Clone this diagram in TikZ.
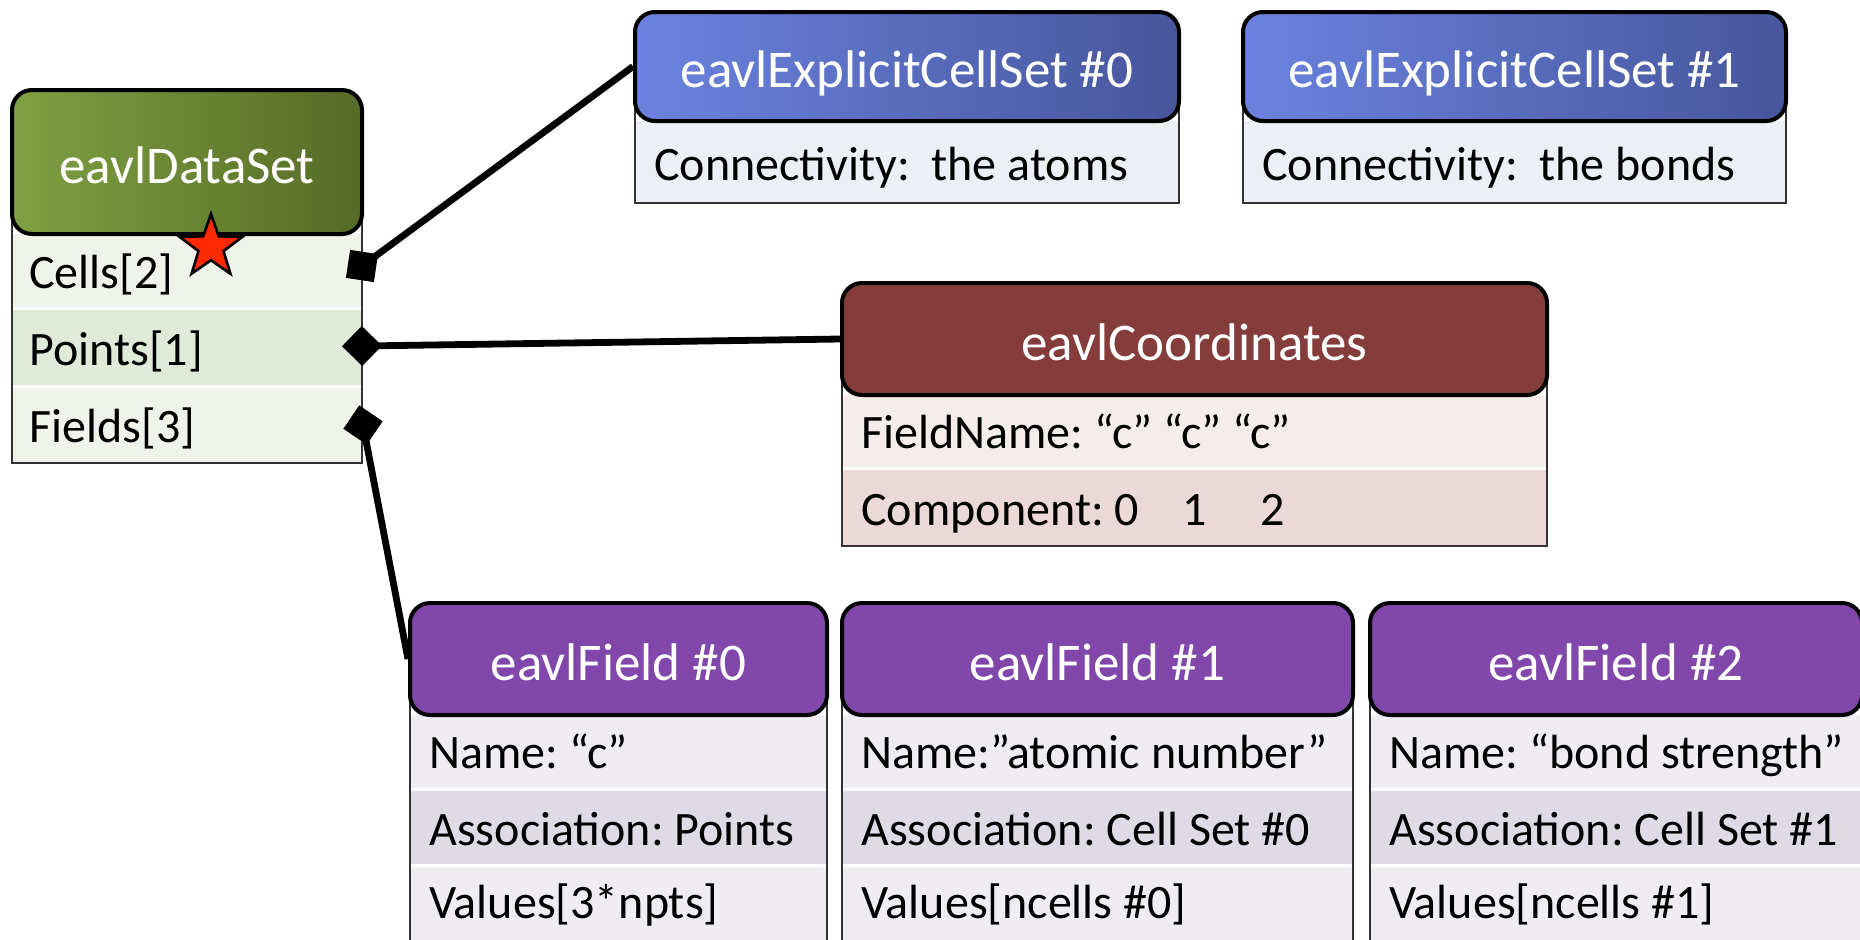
\documentclass[tikz,border=0pt]{standalone}
\usepackage{fontspec}
\setmainfont{Carlito}
\usetikzlibrary{arrows.meta,shapes.geometric}
\definecolor{dsL}{HTML}{7FA042}
\definecolor{dsR}{HTML}{566B26}
\definecolor{dsRowA}{HTML}{F0F3EC}
\definecolor{dsRowB}{HTML}{E1EAD9}
\definecolor{csL}{HTML}{6B83DF}
\definecolor{csR}{HTML}{47569C}
\definecolor{csRow}{HTML}{ECEFF4}
\definecolor{coHead}{HTML}{853D3B}
\definecolor{coRowA}{HTML}{F5ECEC}
\definecolor{coRowB}{HTML}{EBD8D8}
\definecolor{fiHead}{HTML}{8147AA}
\definecolor{fiRowA}{HTML}{EFEDF2}
\definecolor{fiRowB}{HTML}{DEDBE5}
\definecolor{starRed}{HTML}{FF2A00}
\frenchspacing
\begin{document}
\begin{tikzpicture}[x=0.5pt,y=-0.5pt,
  hdr/.style={draw=black, line width=2pt, rounded corners=10pt, inner sep=0pt,
    text=white, font=\fontsize{26.5}{30}\selectfont, text height=21pt, text depth=0pt},
  rowtext/.style={anchor=base west, inner sep=0pt, font=\fontsize{24}{28}\selectfont, text=black},
  bodyline/.style={draw=black!80, line width=1.1pt},
  sepline/.style={draw=white, line width=1.5pt},
  conn/.style={line width=3.4pt, arrows={Diamond[length=20pt,width=20pt]-}, shorten <=-10pt}
]
\useasboundingbox (0,0) rectangle (1860,939);
\clip (0,0) rectangle (1860,939);

% ---------------- eavlDataSet ----------------
\fill[dsRowA] (12,234) rectangle (362,308);
\fill[dsRowB] (12,308) rectangle (362,386);
\fill[dsRowA] (12,386) rectangle (362,463);
\draw[sepline] (12,308) -- (362,308);
\draw[sepline] (12,386) -- (362,386);
\draw[bodyline] (12,160) rectangle (362,463);
\node[hdr, left color=dsL, right color=dsR, minimum width=175pt, minimum height=72pt] (ds) at (187,162) {eavlDataSet};
\node[rowtext] (dsCells) at (29,288) {Cells[2]};
\node[rowtext] (dsPoints) at (29,365) {Points[1]};
\node[rowtext] (dsFields) at (29,442) {Fields[3]};
\node[star, star points=5, star point ratio=2.5, minimum size=33pt, inner sep=0pt,
  fill=starRed, draw=black, line width=1.3pt] (star) at (211,247) {};

% ---------------- connector ports ----------------
\coordinate (dsCellsPort) at (362,266);
\coordinate (dsPointsPort) at (362,346);
\coordinate (dsFieldsPort) at (363,425);

% ---------------- eavlExplicitCellSet #0 ----------------
\fill[csRow] (635,121) rectangle (1179,203);
\draw[bodyline] (635,60) rectangle (1179,203);
\node[hdr, left color=csL, right color=csR, minimum width=272pt, minimum height=54.5pt] (cs0) at (907,66.5) {eavlExplicitCellSet \#0};
\node[rowtext] (cs0conn) at (654,180) {Connectivity:~ the atoms};

% ---------------- eavlExplicitCellSet #1 ----------------
\fill[csRow] (1243,121) rectangle (1786,203);
\draw[bodyline] (1243,60) rectangle (1786,203);
\node[hdr, left color=csL, right color=csR, minimum width=271.5pt, minimum height=54.5pt] (cs1) at (1514.5,66.5) {eavlExplicitCellSet \#1};
\node[rowtext] (cs1conn) at (1262,180) {Connectivity:~ the bonds};

% ---------------- eavlCoordinates ----------------
\fill[coRowA] (842,395) rectangle (1547,468);
\fill[coRowB] (842,468) rectangle (1547,546);
\draw[sepline] (842,468) -- (1547,468);
\draw[bodyline] (842,330) rectangle (1547,546);
\node[hdr, fill=coHead, minimum width=352.5pt, minimum height=56pt] (coord) at (1194.5,339) {eavlCoordinates};
\node[rowtext] (coName) at (861,448) {FieldName: “c” “c” “c”};
\node[rowtext] (coComp) at (861,525) {Component: 0\hspace{21.5pt}1\hspace{27pt}2};

% ---------------- eavlField #0 ----------------
\fill[fiRowA] (410,715) rectangle (827,789);
\fill[fiRowB] (410,789) rectangle (827,865);
\fill[fiRowA] (410,865) rectangle (827,960);
\draw[sepline] (410,789) -- (827,789);
\draw[sepline] (410,865) -- (827,865);
\draw[bodyline] (410,660) rectangle (827,960);
\node[hdr, fill=fiHead, minimum width=208.5pt, minimum height=56pt] (f0) at (618.5,659) {eavlField \#0};
\node[rowtext] (f0name) at (429,768) {Name: “c”};
\node[rowtext] (f0assoc) at (429,845) {Association: Points};
\node[rowtext] (f0vals) at (429,918) {Values[3*npts]};

% ---------------- eavlField #1 ----------------
\fill[fiRowA] (842,715) rectangle (1353,789);
\fill[fiRowB] (842,789) rectangle (1353,865);
\fill[fiRowA] (842,865) rectangle (1353,960);
\draw[sepline] (842,789) -- (1353,789);
\draw[sepline] (842,865) -- (1353,865);
\draw[bodyline] (842,660) rectangle (1353,960);
\node[hdr, fill=fiHead, minimum width=255.5pt, minimum height=56pt] (f1) at (1097.5,659) {eavlField \#1};
\node[rowtext] (f1name) at (861,768) {Name:”atomic number”};
\node[rowtext] (f1assoc) at (861,845) {Association: Cell Set \#0};
\node[rowtext] (f1vals) at (861,918) {Values[ncells \#0]};

% ---------------- eavlField #2 ----------------
\fill[fiRowA] (1370,715) rectangle (1862,789);
\fill[fiRowB] (1370,789) rectangle (1862,865);
\fill[fiRowA] (1370,865) rectangle (1862,960);
\draw[sepline] (1370,789) -- (1862,789);
\draw[sepline] (1370,865) -- (1862,865);
\draw[bodyline] (1370,660) rectangle (1862,960);
\node[hdr, fill=fiHead, minimum width=246pt, minimum height=56pt] (f2) at (1616,659) {eavlField \#2};
\node[rowtext] (f2name) at (1389,768) {Name: “bond strength”};
\node[rowtext] (f2assoc) at (1389,845) {Association: Cell Set \#1};
\node[rowtext] (f2vals) at (1389,918) {Values[ncells \#1]};

% ---------------- connectors ----------------
\draw[conn] (dsCellsPort) -- (cs0.west);
\draw[conn] (dsPointsPort) -- (coord.west);
\draw[conn] (dsFieldsPort) -- (f0.west);
\end{tikzpicture}
\end{document}
